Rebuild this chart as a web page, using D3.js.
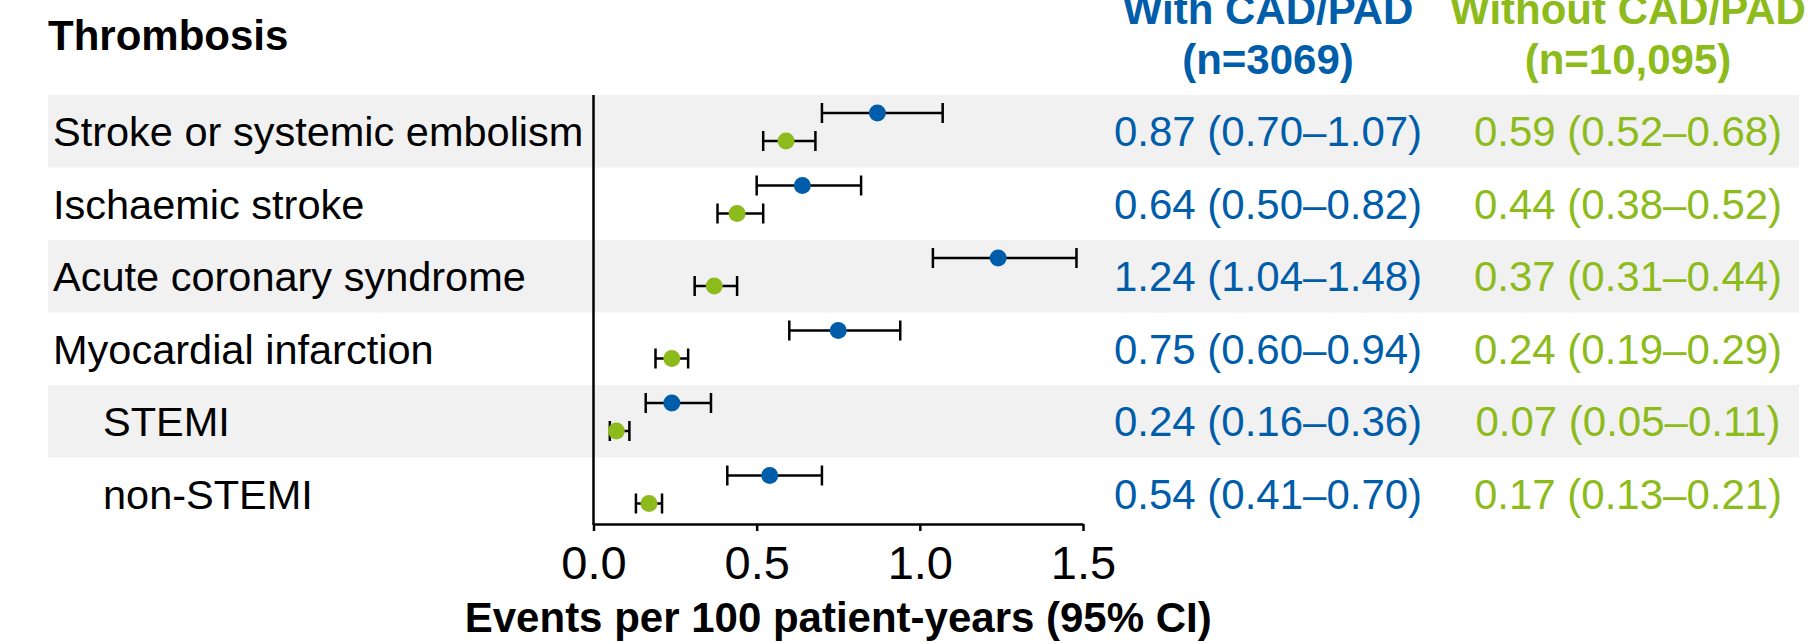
<!DOCTYPE html>
<html>
<head>
<meta charset="utf-8">
<style>
  body { margin: 0; background: #fff; }
  svg { display: block; font-family: "Liberation Sans", Arial, Helvetica, sans-serif; }
</style>
</head>
<body>
<script src="https://cdn.jsdelivr.net/npm/d3@7"></script>
<script>
    // outcomes, events per 100 patient-years (95% CI)
    const outcomes = ["Stroke or systemic embolism", "Ischaemic stroke", "Acute coronary syndrome",
                      "Myocardial infarction", "STEMI", "non-STEMI"];
    const indented = [false, false, false, false, true, true];

    const withRate = [0.87, 0.64, 1.24, 0.75, 0.24, 0.54];
    const withLow  = [0.70, 0.50, 1.04, 0.60, 0.16, 0.41];
    const withHigh = [1.07, 0.82, 1.48, 0.94, 0.36, 0.70];

    const withoutRate = [0.59, 0.44, 0.37, 0.24, 0.07, 0.17];
    const withoutLow  = [0.52, 0.38, 0.31, 0.19, 0.05, 0.13];
    const withoutHigh = [0.68, 0.52, 0.44, 0.29, 0.11, 0.21];

    const xTicks = [0, 0.5, 1.0, 1.5];
    const groupHeaders = [["With CAD/PAD", "(n=3069)"], ["Without CAD/PAD", "(n=10,095)"]];

    const width = 1819, height = 644;
    const blue = "#005daa", green = "#8cbb1b";
    const axisY = 524;

    const svg = d3.select("body").append("svg")
        .attr("width", width)
        .attr("height", height);

    const x = d3.scaleLinear().domain([0, 1.5]).range([593.5, 1083]);
    const y = d3.scaleBand().domain(outcomes).range([95, 530]);
    const rowH = y.bandwidth();

    const series = [
        { name: "with", color: blue, rate: withRate, low: withLow, high: withHigh, dy: 18, col: 1268 },
        { name: "without", color: green, rate: withoutRate, low: withoutLow, high: withoutHigh, dy: 46, col: 1628 }
    ];

    // shaded rows
    svg.selectAll("rect.band")
        .data(outcomes.filter((d, i) => i % 2 === 0))
        .enter().append("rect")
        .attr("class", "band")
        .attr("x", 48)
        .attr("width", 1799 - 48)
        .attr("y", d => y(d))
        .attr("height", rowH)
        .attr("fill", "#f1f1f1");

    // title
    svg.append("text")
        .attr("x", 48).attr("y", 50)
        .attr("font-size", 42).attr("font-weight", "bold")
        .text("Thrombosis");

    // row labels
    svg.selectAll("text.label")
        .data(outcomes)
        .enter().append("text")
        .attr("class", "label")
        .attr("x", (d, i) => indented[i] ? 103 : 53)
        .attr("y", d => y(d) + rowH / 2 + 15)
        .attr("font-size", 41.5)
        .text(d => d);

    // column headers
    series.forEach((s, k) => {
        groupHeaders[k].forEach((line, j) => {
            svg.append("text")
                .attr("x", s.col).attr("y", 24 + j * 50)
                .attr("text-anchor", "middle")
                .attr("font-size", 42).attr("font-weight", "bold")
                .attr("fill", s.color)
                .text(line);
        });
    });

    // numbers
    const f = d3.format(".2f");
    series.forEach(s => {
        svg.selectAll("text.num-" + s.name)
            .data(outcomes)
            .enter().append("text")
            .attr("class", "num-" + s.name)
            .attr("x", s.col)
            .attr("y", d => y(d) + rowH / 2 + 15)
            .attr("text-anchor", "middle")
            .attr("font-size", 42)
            .attr("fill", s.color)
            .text((d, i) => f(s.rate[i]) + " (" + f(s.low[i]) + "\u2013" + f(s.high[i]) + ")");
    });

    // x axis
    const xAxis = d3.axisBottom(x)
        .tickValues(xTicks)
        .tickFormat(d3.format(".1f"))
        .tickSize(7)
        .tickSizeOuter(0)
        .tickPadding(15);

    const gx = svg.append("g")
        .attr("transform", "translate(0," + axisY + ")")
        .call(xAxis);
    gx.select(".domain").attr("stroke", "#000").attr("stroke-width", 2.5);
    gx.selectAll(".tick line").attr("stroke", "#000").attr("stroke-width", 2.5);
    gx.selectAll(".tick text")
        .attr("font-size", 47)
        .attr("font-family", "\"Liberation Sans\", Arial, sans-serif")
        .attr("fill", "#000");

    // vertical axis line
    svg.append("line")
        .attr("x1", x(0)).attr("x2", x(0))
        .attr("y1", y.range()[0]).attr("y2", axisY + 1)
        .attr("stroke", "#000").attr("stroke-width", 2.5);

    // axis title
    svg.append("text")
        .attr("x", (x.range()[0] + x.range()[1]) / 2)
        .attr("y", 632)
        .attr("text-anchor", "middle")
        .attr("font-size", 42).attr("font-weight", "bold")
        .text("Events per 100 patient-years (95% CI)");

    // error bars and points
    const capH = 10;
    series.forEach(s => {
        const g = svg.append("g");
        outcomes.forEach((d, i) => {
            const cy = y(d) + s.dy;
            g.append("line")
                .attr("x1", x(s.low[i])).attr("x2", x(s.high[i]))
                .attr("y1", cy).attr("y2", cy)
                .attr("stroke", "#000").attr("stroke-width", 2.5);
            [s.low[i], s.high[i]].forEach(v => {
                g.append("line")
                    .attr("x1", x(v)).attr("x2", x(v))
                    .attr("y1", cy - capH).attr("y2", cy + capH)
                    .attr("stroke", "#000").attr("stroke-width", 2.5);
            });
            g.append("circle")
                .attr("cx", x(s.rate[i]))
                .attr("cy", cy)
                .attr("r", 8.5)
                .attr("fill", s.color);
        });
    });
</script>
</body>
</html>
